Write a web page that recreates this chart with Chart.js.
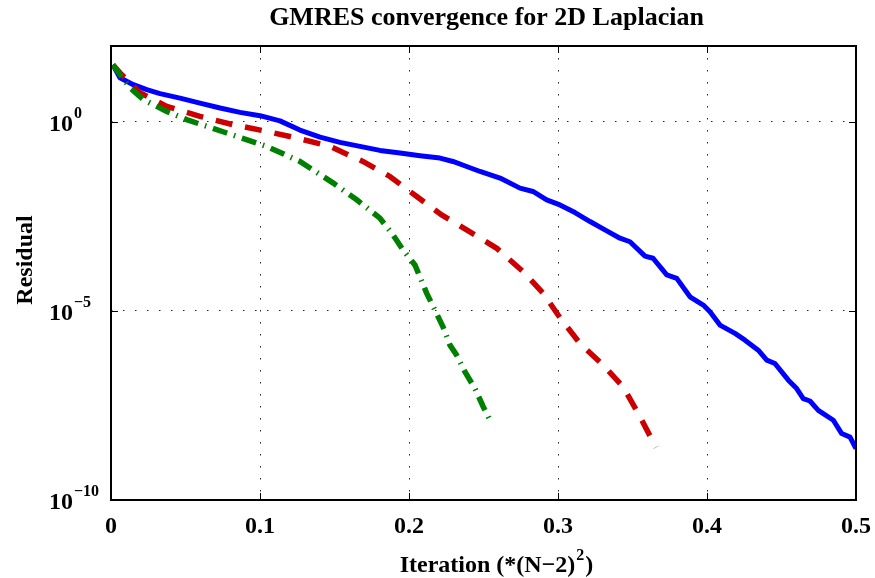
<!DOCTYPE html>
<html>
<head>
<meta charset="utf-8">
<title>GMRES convergence for 2D Laplacian</title>
<script src="https://cdn.jsdelivr.net/npm/chart.js@4.4.1/dist/chart.umd.min.js"></script>
<style>
  html, body { margin: 0; padding: 0; background: #fff; }
  #wrap { width: 875px; height: 578px; }
</style>
</head>
<body>
<div id="wrap"><canvas id="gmres" width="875" height="578"></canvas></div>
<script>
// Residual histories, x is iteration count divided by (N-2)^2
const blueX = [0.0013, 0.006, 0.015, 0.024, 0.0329, 0.0463, 0.0597, 0.0732, 0.0866, 0.1, 0.1134, 0.1268, 0.1403, 0.1537, 0.1671, 0.1805, 0.194, 0.2074, 0.2208, 0.2295, 0.2387, 0.2477, 0.2611, 0.2745, 0.2832, 0.2924, 0.3013, 0.3114, 0.3215, 0.3315, 0.3416, 0.3483, 0.3584, 0.3638, 0.373, 0.3797, 0.3886, 0.3975, 0.402, 0.4087, 0.4188, 0.4255, 0.4344, 0.4401, 0.4456, 0.4546, 0.4602, 0.4646, 0.4691, 0.4747, 0.4848, 0.4904, 0.496, 0.5];
const blueY = [32, 14.4, 9.5, 7.0, 5.5, 4.2, 3.1, 2.3, 1.76, 1.44, 1.05, 0.6, 0.39, 0.283, 0.222, 0.174, 0.148, 0.126, 0.109, 0.0887, 0.0654, 0.0482, 0.0323, 0.0175, 0.0143, 0.0086, 0.0063, 0.00395, 0.00229, 0.00138, 8.3e-4, 6.7e-4, 2.8e-4, 2.45e-4, 8.9e-5, 7.2e-5, 2.35e-5, 1.42e-5, 9.4e-6, 4.2e-6, 2.53e-6, 1.68e-6, 9.1e-7, 4.96e-7, 4.05e-7, 1.47e-7, 8.8e-8, 4.8e-8, 4.14e-8, 2.35e-8, 1.28e-8, 5.7e-9, 4.6e-9, 2.3e-9];

const redX = [0.0013, 0.006, 0.0195, 0.0374, 0.0597, 0.0819, 0.1045, 0.1246, 0.147, 0.1691, 0.1872, 0.2052, 0.2219, 0.2387, 0.2589, 0.2767, 0.2901, 0.3013, 0.3148, 0.3304, 0.3438, 0.3539, 0.3658];
const redY = [32, 19.5, 5.8, 2.54, 1.38, 0.833, 0.553, 0.37, 0.222, 0.0888, 0.0356, 0.0105, 0.00344, 0.00138, 4.5e-4, 1.08e-4, 2.9e-5, 6.6e-6, 1.37e-6, 3.66e-7, 9.7e-8, 1.92e-8, 2.46e-9];

const greenX = [0.0013, 0.006, 0.0128, 0.0217, 0.0374, 0.0508, 0.0777, 0.1045, 0.1268, 0.1492, 0.1649, 0.1805, 0.1893, 0.196, 0.204, 0.2119, 0.2174, 0.2228, 0.2275, 0.232, 0.2376, 0.2443, 0.2499, 0.2555];
const greenY = [32, 17.6, 7.8, 3.83, 1.87, 1.13, 0.502, 0.222, 0.0888, 0.0238, 0.0086, 0.00281, 0.00102, 4.07e-4, 1.63e-4, 2.9e-5, 1.05e-5, 3.8e-6, 1.24e-6, 6.7e-7, 2.43e-7, 8.8e-8, 2.87e-8, 1.04e-8];

const xTicks = [0, 0.1, 0.2, 0.3, 0.4, 0.5];
const xTickLabels = ['0', '0.1', '0.2', '0.3', '0.4', '0.5'];
const yTicks = [1e0, 1e-5, 1e-10];
const yTickExps = ['0', '\u22125', '\u221210'];

const FONT = '"Liberation Serif", "Times New Roman", serif';

const toPoints = (xs, ys) => xs.map((x, i) => ({ x, y: ys[i] }));

// Box, inward tick marks and all the text (MATLAB style axes)
const axesDecor = {
  id: 'axesDecor',
  afterDraw(chart) {
    const { ctx, chartArea: a, scales: { x, y } } = chart;
    ctx.save();
    ctx.strokeStyle = '#000';
    ctx.lineWidth = 2;
    ctx.strokeRect(a.left, a.top, a.right - a.left, a.bottom - a.top);

    const tl = 7;
    ctx.lineWidth = 1;
    ctx.beginPath();
    xTicks.forEach(v => {
      const px = Math.round(x.getPixelForValue(v)) + 0.5;
      ctx.moveTo(px, a.bottom); ctx.lineTo(px, a.bottom - tl);
      ctx.moveTo(px, a.top); ctx.lineTo(px, a.top + tl);
    });
    yTicks.forEach(v => {
      const py = Math.round(y.getPixelForValue(v)) + 0.5;
      ctx.moveTo(a.left, py); ctx.lineTo(a.left + tl, py);
      ctx.moveTo(a.right, py); ctx.lineTo(a.right - tl, py);
    });
    ctx.stroke();

    ctx.fillStyle = '#000';
    ctx.textBaseline = 'alphabetic';

    // x tick labels
    ctx.font = 'bold 24px ' + FONT;
    ctx.textAlign = 'center';
    xTicks.forEach((v, i) => {
      ctx.fillText(xTickLabels[i], x.getPixelForValue(v), a.bottom + 33);
    });

    // y tick labels: 10 with a raised exponent
    yTicks.forEach((v, i) => {
      const py = y.getPixelForValue(v);
      ctx.font = 'bold 24px ' + FONT;
      ctx.textAlign = 'right';
      ctx.fillText('10', a.left - 38, py + 9);
      ctx.font = 'bold 16px ' + FONT;
      ctx.textAlign = 'left';
      ctx.fillText(yTickExps[i], a.left - 37, py - 4);
    });

    // title
    const cx = (a.left + a.right) / 2;
    ctx.font = 'bold 26px ' + FONT;
    ctx.textAlign = 'center';
    ctx.fillText('GMRES convergence for 2D Laplacian', cx + 3, 25);

    // x axis label with superscript
    const main = 'Iteration (*(N\u22122)';
    ctx.font = 'bold 24px ' + FONT;
    const w1 = ctx.measureText(main).width;
    const w2 = ctx.measureText(')').width;
    ctx.font = 'bold 16px ' + FONT;
    const ws = ctx.measureText('2').width;
    let lx = cx + 12 - (w1 + ws + w2) / 2;
    ctx.textAlign = 'left';
    ctx.font = 'bold 24px ' + FONT;
    ctx.fillText(main, lx, 572);
    ctx.font = 'bold 16px ' + FONT;
    ctx.fillText('2', lx + w1 + 1, 560);
    ctx.font = 'bold 24px ' + FONT;
    ctx.fillText(')', lx + w1 + ws + 2, 572);

    // y axis label
    ctx.save();
    ctx.translate(32, 260);
    ctx.rotate(-Math.PI / 2);
    ctx.textAlign = 'center';
    ctx.fillText('Residual', 0, 0);
    ctx.restore();

    ctx.restore();
  }
};

const gridStyle = {
  display: true,
  drawTicks: false,
  color: '#222',
  lineWidth: 1
};

new Chart(document.getElementById('gmres'), {
  type: 'scatter',
  data: {
    datasets: [
      {
        label: 'blue',
        data: toPoints(blueX, blueY),
        showLine: true,
        borderColor: '#0000ff',
        borderWidth: 5,
        borderJoinStyle: 'round',
        pointRadius: 0,
        order: 3
      },
      {
        label: 'red',
        data: toPoints(redX, redY),
        showLine: true,
        borderColor: '#cc0000',
        borderWidth: 5.5,
        borderDash: [17, 13],
        borderCapStyle: 'butt',
        pointRadius: 0,
        order: 2
      },
      {
        label: 'green',
        data: toPoints(greenX, greenY),
        showLine: true,
        borderColor: '#008000',
        borderWidth: 5.5,
        borderDash: [15, 7, 1.5, 7],
        borderCapStyle: 'butt',
        pointRadius: 0,
        order: 1
      }
    ]
  },
  options: {
    responsive: false,
    animation: false,
    layout: { padding: { left: 111, right: 19, top: 46, bottom: 78 } },
    plugins: {
      legend: { display: false },
      tooltip: { enabled: false },
      title: { display: false }
    },
    scales: {
      x: {
        type: 'linear',
        min: 0,
        max: 0.5,
        ticks: { display: false, stepSize: 0.1 },
        grid: gridStyle,
        border: { display: false, dash: [1.5, 10.5] }
      },
      y: {
        type: 'logarithmic',
        min: 1e-10,
        max: 1e2,
        afterBuildTicks: axis => { axis.ticks = yTicks.map(v => ({ value: v })); },
        ticks: { display: false },
        grid: gridStyle,
        border: { display: false, dash: [1.5, 10.5] }
      }
    }
  },
  plugins: [axesDecor]
});
</script>
</body>
</html>
